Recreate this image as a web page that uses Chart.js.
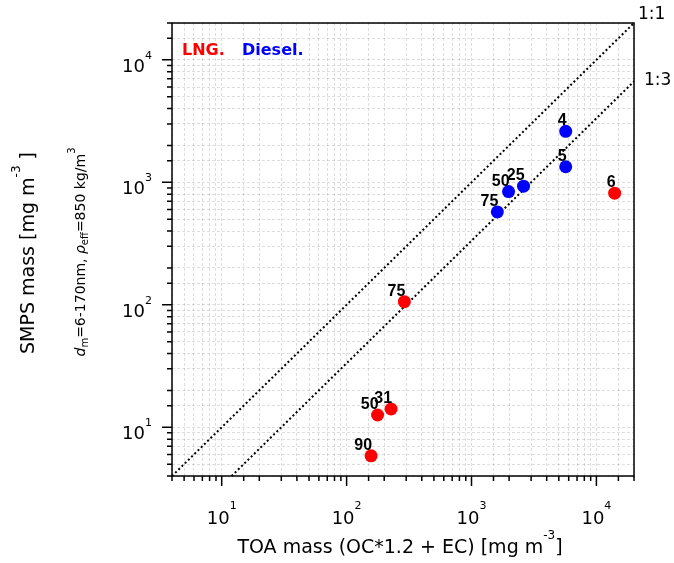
<!DOCTYPE html>
<html>
<head>
<meta charset="utf-8">
<script src="https://cdn.jsdelivr.net/npm/chart.js@4.4.0/dist/chart.umd.min.js"></script>
<style>
  html, body { margin: 0; padding: 0; background: #fff; }
  #wrap { width: 674px; height: 563px; }
</style>
</head>
<body>
<div id="wrap"><canvas id="c"></canvas></div>
<script>
// ── Data ──
const lngX      = [14000, 290, 177, 227, 157];
const lngY      = [815, 106, 12.6, 14.1, 5.85];
const lngLabels = ['6', '75', '50', '31', '90'];

const dieselX      = [5680, 5680, 2610, 1980, 1610];
const dieselY      = [2610, 1340, 930, 840, 573];
const dieselLabels = ['4', '5', '25', '50', '75'];

const line11X = [4, 20000];
const line11Y = [4, 20000];
const line13X = [12, 20000];
const line13Y = [4, 6667];

const axisMin = 4, axisMax = 20000;

const FONT = "'DejaVu Sans', Verdana, sans-serif";
const pts = (xs, ys) => xs.map((x, i) => ({ x, y: ys[i] }));

function fontOf(p) {
  return `${p.italic ? 'italic ' : ''}${p.bold ? 'bold ' : ''}${p.size}px ${p.family || FONT}`;
}

// draw a run of text pieces (for super/subscripts)
function drawRich(ctx, parts, x, y, align) {
  let w = 0;
  parts.forEach(p => { ctx.font = fontOf(p); p.w = ctx.measureText(p.t).width; w += p.w; });
  let cx = align === 'center' ? x - w / 2 : align === 'right' ? x - w : x;
  ctx.textAlign = 'left';
  ctx.textBaseline = 'alphabetic';
  parts.forEach(p => { ctx.font = fontOf(p); ctx.fillText(p.t, cx, y + (p.dy || 0)); cx += p.w; });
}

const isMajor = v => Math.abs(Math.log10(v) - Math.round(Math.log10(v))) < 1e-9;

const decorPlugin = {
  id: 'decor',
  afterDraw(chart) {
    const { ctx, chartArea: a, scales: { x, y } } = chart;
    ctx.save();

    // frame
    ctx.strokeStyle = '#000';
    ctx.lineWidth = 1.5;
    ctx.strokeRect(a.left, a.top, a.right - a.left, a.bottom - a.top);

    // ticks + labels
    ctx.fillStyle = '#000';
    ctx.beginPath();
    x.ticks.forEach(t => {
      const px = x.getPixelForValue(t.value);
      const len = isMajor(t.value) ? 10 : 5;
      ctx.moveTo(px, a.bottom); ctx.lineTo(px, a.bottom + len);
    });
    y.ticks.forEach(t => {
      const py = y.getPixelForValue(t.value);
      const len = isMajor(t.value) ? 10 : 5;
      ctx.moveTo(a.left, py); ctx.lineTo(a.left - len, py);
    });
    ctx.stroke();

    x.ticks.forEach(t => {
      if (!isMajor(t.value)) return;
      const e = Math.round(Math.log10(t.value));
      drawRich(ctx, [{ t: '10', size: 18 }, { t: String(e), size: 11, dy: -15 }],
        x.getPixelForValue(t.value), a.bottom + 48, 'center');
    });
    y.ticks.forEach(t => {
      if (!isMajor(t.value)) return;
      const e = Math.round(Math.log10(t.value));
      drawRich(ctx, [{ t: '10', size: 18 }, { t: String(e), size: 11, dy: -13 }],
        a.left - 20, y.getPixelForValue(t.value) + 12, 'right');
    });

    // axis titles
    drawRich(ctx, [
      { t: 'TOA mass (OC*1.2 + EC) [mg m', size: 19 },
      { t: '-3', size: 12, dy: -14 },
      { t: ']', size: 19 }
    ], 400, 553, 'center');

    ctx.save();
    ctx.translate(34, 253);
    ctx.rotate(-Math.PI / 2);
    drawRich(ctx, [
      { t: 'SMPS mass [mg m', size: 19 },
      { t: '-3', size: 12, dy: -14 },
      { t: ' ]', size: 19 }
    ], 0, 0, 'center');
    ctx.restore();

    ctx.save();
    ctx.translate(85, 252);
    ctx.rotate(-Math.PI / 2);
    drawRich(ctx, [
      { t: 'd', size: 14, italic: true },
      { t: 'm', size: 10, dy: 3 },
      { t: '=6-170nm, ', size: 14 },
      { t: 'ρ', size: 14, italic: true },
      { t: 'eff', size: 10, dy: 3 },
      { t: '=850 kg/m', size: 14 },
      { t: '3', size: 10, dy: -10 }
    ], 0, 0, 'center');
    ctx.restore();

    // ratio line labels
    ctx.font = `17px ${FONT}`;
    ctx.textAlign = 'left';
    ctx.textBaseline = 'middle';
    ctx.fillText('1:1', x.getPixelForValue(line11X[1]) + 4, y.getPixelForValue(line11Y[1]) - 8);
    ctx.fillText('1:3', x.getPixelForValue(line13X[1]) + 10, y.getPixelForValue(line13Y[1]) - 1);

    // legend text
    ctx.font = `bold 16px ${FONT}`;
    ctx.textBaseline = 'middle';
    ctx.fillStyle = '#ff0000';
    ctx.fillText('LNG.', a.left + 10, a.top + 28);
    ctx.fillStyle = '#0000ff';
    ctx.fillText('Diesel.', a.left + 70, a.top + 28);

    // point labels
    ctx.fillStyle = '#000';
    ctx.font = "bold 16px 'Liberation Sans', Arial, sans-serif";
    ctx.textAlign = 'right';
    ctx.textBaseline = 'alphabetic';
    [[0, lngLabels], [1, dieselLabels]].forEach(([di, labels]) => {
      chart.getDatasetMeta(di).data.forEach((el, i) => {
        ctx.fillText(labels[i], el.x + 1, el.y - 6);
      });
    });

    ctx.restore();
  }
};

const gridOpts = { color: 'rgba(0,0,0,0.13)', lineWidth: 1, drawTicks: false };
const borderOpts = { display: false, dash: [3, 2] };

new Chart(document.getElementById('c'), {
  type: 'scatter',
  data: {
    datasets: [
      { label: 'LNG', data: pts(lngX, lngY), backgroundColor: '#ff0000', borderWidth: 0, pointRadius: 6.5, pointHoverRadius: 6.5, order: 0 },
      { label: 'Diesel', data: pts(dieselX, dieselY), backgroundColor: '#0000ff', borderWidth: 0, pointRadius: 6.5, pointHoverRadius: 6.5, order: 0 },
      { label: '1:1', data: pts(line11X, line11Y), showLine: true, borderColor: '#000', borderWidth: 2, borderDash: [2, 2.5], pointRadius: 0, order: 1 },
      { label: '1:3', data: pts(line13X, line13Y), showLine: true, borderColor: '#000', borderWidth: 2, borderDash: [2, 2.5], pointRadius: 0, order: 1 }
    ]
  },
  options: {
    responsive: true,
    maintainAspectRatio: false,
    animation: false,
    layout: { padding: { top: 23, right: 40, left: 0, bottom: 0 } },
    plugins: { legend: { display: false }, tooltip: { enabled: false } },
    scales: {
      x: {
        type: 'logarithmic', min: axisMin, max: axisMax,
        grid: gridOpts, border: borderOpts,
        ticks: { display: false },
        afterFit: s => { s.height = 87; }
      },
      y: {
        type: 'logarithmic', min: axisMin, max: axisMax,
        grid: gridOpts, border: borderOpts,
        ticks: { display: false },
        afterFit: s => { s.width = 172; }
      }
    }
  },
  plugins: [decorPlugin]
});
</script>
</body>
</html>
